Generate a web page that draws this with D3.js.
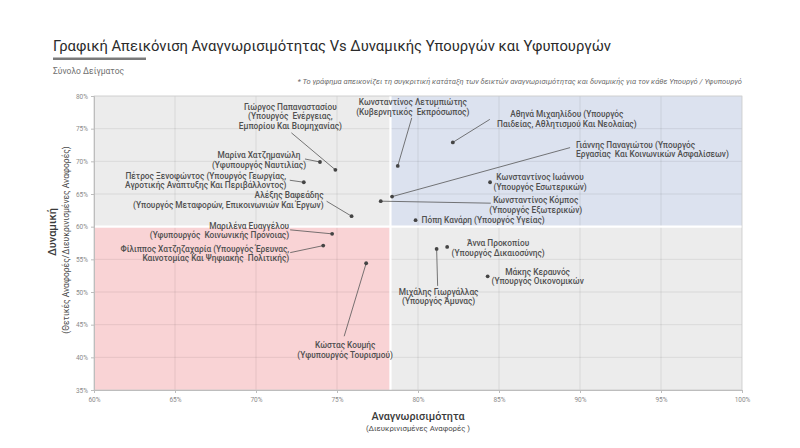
<!DOCTYPE html>
<meta charset="utf-8">
<script src="https://d3js.org/d3.v7.min.js"></script>
<style>
body { margin: 0; background: #fff; }
text { font-family: Roboto, "Noto Sans", sans-serif; }
</style>
<body>
<div id="my_dataviz"></div>
<script>

// data
const labels = [
  ["Γιώργος Παπαναστασίου", "(Υπουργός  Ενέργειας,", "Εμπορίου Και Βιομηχανίας)"],
  ["Μαρίνα Χατζημανώλη", "(Υφυπουργός Ναυτιλίας)"],
  ["Πέτρος Ξενοφώντος (Υπουργός Γεωργίας,", "Αγροτικής Ανάπτυξης Και Περιβάλλοντος)"],
  ["Αλέξης Βαφεάδης", "(Υπουργός Μεταφορών, Επικοινωνιών Και Έργων)"],
  ["Μαριλένα Ευαγγέλου", "(Υφυπουργός  Κοινωνικής Πρόνοιας)"],
  ["Φίλιππος Χατζηζαχαρία (Υπουργός Έρευνας,", "Καινοτομίας Και Ψηφιακής  Πολιτικής)"],
  ["Κώστας Κουμής", "(Υφυπουργός Τουρισμού)"],
  ["Κωνσταντίνος Λετυμπιώτης", "(Κυβερνητικός  Εκπρόσωπος)"],
  ["Αθηνά Μιχαηλίδου (Υπουργός", "Παιδείας, Αθλητισμού Και Νεολαίας)"],
  ["Γιάννης Παναγιώτου (Υπουργός", "Εργασίας  Και Κοινωνικών Ασφαλίσεων)"],
  ["Κωνσταντίνος Κόμπος", "(Υπουργός Εξωτερικών)"],
  ["Κωνσταντίνος Ιωάννου", "(Υπουργός Εσωτερικών)"],
  ["Πόπη Κανάρη (Υπουργός Υγείας)"],
  ["Άννα Προκοπίου", "(Υπουργός Δικαιοσύνης)"],
  ["Μιχάλης Γιωργάλλας", "(Υπουργός Άμυνας)"],
  ["Μάκης Κεραυνός", "(Υπουργός Οικονομικών"]
];
const recognition = [0.749, 0.7395, 0.7295, 0.759, 0.747, 0.7415, 0.768, 0.7875,
                     0.8215, 0.784, 0.777, 0.8445, 0.7985, 0.818, 0.8115, 0.843];
const dynamics    = [0.687, 0.699, 0.668, 0.616, 0.589, 0.571, 0.544, 0.693,
                     0.729, 0.646, 0.639, 0.668, 0.610, 0.569, 0.566, 0.524];
const xTicks = [0.60, 0.65, 0.70, 0.75, 0.80, 0.85, 0.90, 0.95, 1.00];
const yTicks = [0.35, 0.40, 0.45, 0.50, 0.55, 0.60, 0.65, 0.70, 0.75, 0.80];
const xSplit = 0.783, ySplit = 0.60;

// label placement (pixel offsets from each point)
const labelLayout = [
  {dx: -45, dy: -60, anchor: "middle", cx: -44, cy: -37},
  {dx: -61, dy: -3.5, anchor: "middle", cx: -15, cy: -3},
  {dx: -98, dy: -3.5, anchor: "middle", cx: -14, cy: -2},
  {dx: -28, dy: -18, anchor: "end", cx: -25, cy: -15},
  {dx: -43, dy: -5, anchor: "end", cx: -42, cy: -4},
  {dx: -34, dy: 6, anchor: "end", cx: -33, cy: 7},
  {dx: -21, dy: 85, anchor: "middle", cx: -22, cy: 73},
  {dx: 15, dy: -61, anchor: "middle", cx: 14, cy: -48},
  {dx: 114, dy: -25, anchor: "middle", cx: 37, cy: -23},
  {dx: 184, dy: -49, anchor: "start", cx: 178, cy: -49},
  {dx: 155, dy: 2, anchor: "middle", cx: 110, cy: 2},
  {dx: 50, dy: -2, anchor: "middle"},
  {dx: 6, dy: 3, anchor: "start"},
  {dx: 51, dy: -1, anchor: "middle"},
  {dx: 2, dy: 46, anchor: "middle", cx: 1, cy: 37},
  {dx: 50, dy: -1.5, anchor: "middle"}
];

const margin = {top: 96, right: 58, bottom: 58, left: 94},
    width = 800 - margin.left - margin.right,
    height = 448 - margin.top - margin.bottom;

const root = d3.select("#my_dataviz")
  .append("svg")
    .attr("width", 800)
    .attr("height", 448);

// title block
root.append("text")
  .attr("x", 53).attr("y", 51)
  .style("font-size", "14.8px").style("fill", "#2b2b2b")
  .text("Γραφική Απεικόνιση Αναγνωρισιμότητας Vs Δυναμικής Υπουργών και Υφυπουργών");
root.append("rect")
  .attr("x", 53).attr("y", 57.5).attr("width", 93).attr("height", 2.5)
  .attr("fill", "#7a7a7a");
root.append("text")
  .attr("x", 53).attr("y", 74)
  .style("font-size", "8.5px").style("fill", "#707070")
  .text("Σύνολο Δείγματος");
root.append("text")
  .attr("x", 742).attr("y", 84)
  .attr("text-anchor", "end")
  .style("font-size", "7.5px").style("font-style", "italic").style("fill", "#6a6a6a")
  .text("* Το γράφημα απεικονίζει τη συγκριτική κατάταξη των δεικτών αναγνωρισιμότητας και δυναμικής για τον κάθε Υπουργό / Υφυπουργό");

const svg = root.append("g")
  .attr("transform", `translate(${margin.left},${margin.top})`);

const x = d3.scaleLinear().domain([0.6, 1]).range([0, width]);
const y = d3.scaleLinear().domain([0.35, 0.8]).range([height, 0]);

// quadrant backgrounds
const quads = [
  {x0: 0.6, x1: 1, y0: 0.35, y1: 0.8, fill: "#ececec"},
  {x0: 0.6, x1: xSplit, y0: 0.35, y1: ySplit, fill: "#f9d3d5"},
  {x0: xSplit, x1: 1, y0: ySplit, y1: 0.8, fill: "#dce2ef"}
];
svg.selectAll(".quad")
  .data(quads)
  .join("rect")
    .attr("class", "quad")
    .attr("x", d => x(d.x0))
    .attr("y", d => y(d.y1))
    .attr("width", d => x(d.x1) - x(d.x0))
    .attr("height", d => y(d.y0) - y(d.y1))
    .attr("fill", d => d.fill);

// grid
svg.selectAll(".vgrid")
  .data(xTicks)
  .join("line")
    .attr("x1", d => x(d)).attr("x2", d => x(d))
    .attr("y1", 0).attr("y2", height)
    .attr("stroke", "rgba(0,0,0,0.08)");
svg.selectAll(".hgrid")
  .data(yTicks)
  .join("line")
    .attr("y1", d => y(d)).attr("y2", d => y(d))
    .attr("x1", 0).attr("x2", width)
    .attr("stroke", "rgba(0,0,0,0.08)");

// white separators between quadrants
svg.append("line")
  .attr("x1", x(xSplit)).attr("x2", x(xSplit))
  .attr("y1", 0).attr("y2", height)
  .attr("stroke", "#fff").attr("stroke-width", 2.2);
svg.append("line")
  .attr("x1", 0).attr("x2", width)
  .attr("y1", y(ySplit)).attr("y2", y(ySplit))
  .attr("stroke", "#fff").attr("stroke-width", 2.2);

svg.append("rect")
  .attr("width", width).attr("height", height)
  .attr("fill", "none").attr("stroke", "#d6d6d6").attr("stroke-width", 0.8);

// axes
const fmt = d3.format(".0%");
const xAxis = svg.append("g")
  .attr("transform", `translate(0,${height})`)
  .call(d3.axisBottom(x).tickValues(xTicks).tickFormat(fmt).tickSize(3));
const yAxis = svg.append("g")
  .call(d3.axisLeft(y).tickValues(yTicks).tickFormat(fmt).tickSize(3));
[xAxis, yAxis].forEach(a => {
  a.selectAll("path, line").attr("stroke", "#bdbdbd");
  a.selectAll("text").style("font-size", "6.5px").style("fill", "#8a8a8a");
});
xAxis.selectAll("text").attr("dy", "0.9em");

// axis titles
root.append("text")
  .attr("x", x(0.8) + margin.left).attr("y", 420)
  .attr("text-anchor", "middle")
  .style("font-size", "10.8px").style("font-weight", 500).style("fill", "#3a3a3a")
  .text("Αναγνωρισιμότητα");
root.append("text")
  .attr("x", x(0.8) + margin.left).attr("y", 431)
  .attr("text-anchor", "middle")
  .style("font-size", "7.8px").style("fill", "#4a4a4a")
  .text("(Διευκρινισμένες Αναφορές )");
root.append("text")
  .attr("transform", "translate(56,232) rotate(-90)")
  .attr("text-anchor", "middle")
  .style("font-size", "11px").style("font-weight", 500).style("fill", "#3a3a3a")
  .text("Δυναμική");
root.append("text")
  .attr("transform", "translate(68.5,240) rotate(-90)")
  .attr("text-anchor", "middle")
  .style("font-size", "8.5px").style("fill", "#4a4a4a")
  .text("(Θετικές Αναφορές/Διευκρινισμένες Αναφορές)");

// points, connectors and labels
const pts = labels.map((l, i) => ({lines: l, px: x(recognition[i]), py: y(dynamics[i]), lay: labelLayout[i]}));

svg.selectAll(".conn")
  .data(pts.filter(d => d.lay.cx !== undefined))
  .join("line")
    .attr("x1", d => d.px).attr("y1", d => d.py)
    .attr("x2", d => d.px + d.lay.cx).attr("y2", d => d.py + d.lay.cy)
    .attr("stroke", "#555").attr("stroke-width", 0.8);

svg.selectAll(".dot")
  .data(pts)
  .join("circle")
    .attr("cx", d => d.px).attr("cy", d => d.py)
    .attr("r", 1.9)
    .attr("fill", "#444");

const lbl = svg.selectAll(".lbl")
  .data(pts)
  .join("text")
    .attr("text-anchor", d => d.lay.anchor)
    .style("font-size", "8.3px").style("font-weight", 500).style("fill", "#505050")
    .style("white-space", "pre");
lbl.selectAll("tspan")
  .data(d => d.lines.map((t, k) => ({t, k, d})))
  .join("tspan")
    .attr("x", o => o.d.px + o.d.lay.dx)
    .attr("y", o => o.d.py + o.d.lay.dy + o.k * 9.6)
    .text(o => o.t);

</script>
</body>
